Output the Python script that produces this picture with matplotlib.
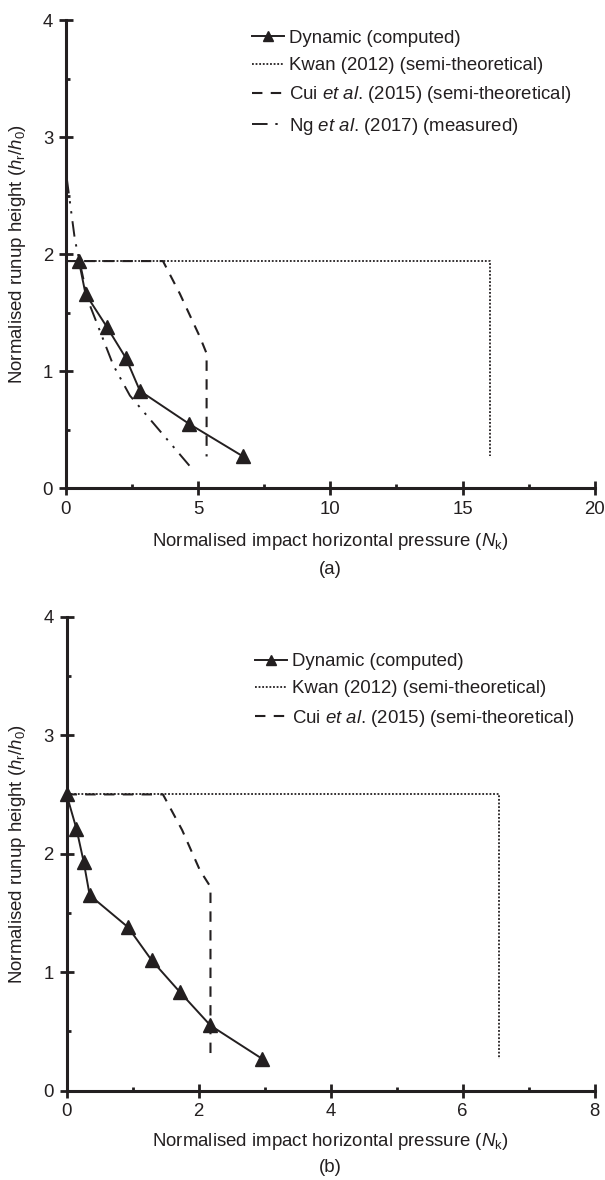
# -*- coding: utf-8 -*-
"""Runup height vs impact pressure, two panels (a) and (b)."""

import numpy as np
import matplotlib
matplotlib.use('Agg')
import matplotlib.pyplot as plt
from matplotlib.ticker import MultipleLocator

plt.rcParams['font.family'] = ['Liberation Sans', 'DejaVu Sans']
plt.rcParams['mathtext.fontset'] = 'custom'
plt.rcParams['mathtext.rm'] = 'Liberation Sans'
plt.rcParams['mathtext.it'] = 'Liberation Sans:italic'

INK = '#231f20'

# panel (a)
dyn_a_x = [0.49, 0.74, 1.54, 2.27, 2.80, 4.65, 6.70]
dyn_a_y = [1.94, 1.66, 1.38, 1.11, 0.83, 0.55, 0.27]
kwan_a_x = [0, 16.05, 16.05]
kwan_a_y = [1.94, 1.94, 0.27]
cui_a_x = [0, 3.67, 4.31, 5.07, 5.32, 5.32]
cui_a_y = [1.94, 1.94, 1.66, 1.29, 1.15, 0.27]
ng_a_x = [0.03, 0.34, 0.84, 1.79, 2.42, 4.75]
ng_a_y = [2.65, 2.12, 1.60, 1.05, 0.79, 0.17]

# panel (b)
dyn_b_x = [0.0, 0.15, 0.26, 0.35, 0.93, 1.29, 1.72, 2.18, 2.96]
dyn_b_y = [2.50, 2.21, 1.93, 1.65, 1.38, 1.10, 0.83, 0.55, 0.27]
kwan_b_x = [0, 6.55, 6.55]
kwan_b_y = [2.50, 2.50, 0.27]
cui_b_x = [0, 1.46, 1.75, 2.02, 2.18, 2.18]
cui_b_y = [2.50, 2.50, 2.20, 1.86, 1.72, 0.27]

labels = ['Dynamic (computed)',
          'Kwan (2012) (semi-theoretical)',
          r'Cui $\mathit{et\ al}$. (2015) (semi-theoretical)',
          r'Ng $\mathit{et\ al}$. (2017) (measured)']

FS = 13.4


def setup_axes(ax, xmax, xmajor):
    """Only left/bottom spines, ticks crossing the axes."""
    for s in ['top', 'right']:
        ax.spines[s].set_visible(False)
    for s in ['left', 'bottom']:
        ax.spines[s].set_linewidth(2.2)
        ax.spines[s].set_color(INK)
    ax.set_xlim(0, xmax)
    ax.set_ylim(0, 4)
    ax.xaxis.set_major_locator(MultipleLocator(xmajor))
    ax.xaxis.set_minor_locator(MultipleLocator(xmajor / 2))
    ax.yaxis.set_major_locator(MultipleLocator(1))
    ax.yaxis.set_minor_locator(MultipleLocator(0.5))
    ax.tick_params(which='major', direction='inout', length=9.4, width=2,
                   color=INK, labelsize=FS, labelcolor=INK, pad=4.5)
    ax.tick_params(which='minor', direction='in', length=3, width=2,
                   color=INK)


def draw(ax, dx, dy, kx, ky, cx, cy, nx=None, ny=None, anchor=(0.35, 0.99)):
    ax.plot(kx, ky, color=INK, lw=1.3, ls=(0, (1, 1)), label=labels[1],
            clip_on=False)
    ax.plot(cx, cy, color=INK, lw=1.5, ls=(0, (5, 4)), label=labels[2],
            clip_on=False)
    if nx is not None:
        ax.plot(nx, ny, color=INK, lw=1.4,
                ls=(0, (8, 4, 1.2, 4, 1.2, 4)), label=labels[3],
                clip_on=False)
    ax.plot(dx, dy, color=INK, lw=1.4, marker='^', ms=10.5,
            label=labels[0], clip_on=False, zorder=5)
    h, l = ax.get_legend_handles_labels()
    order = [l.index(t) for t in labels if t in l]
    leg = ax.legend([h[i] for i in order], [l[i] for i in order],
                    loc='upper left', bbox_to_anchor=anchor,
                    frameon=False, fontsize=FS, handlelength=1.7,
                    handletextpad=0.3, labelspacing=0.55, numpoints=1,
                    markerscale=0.7, borderaxespad=0, borderpad=0)
    for t in leg.get_texts():
        t.set_color(INK)


fig = plt.figure(figsize=(6.05, 11.8), dpi=100)
ax1 = fig.add_axes([0.109, 0.5864, 0.874, 0.3966])
ax2 = fig.add_axes([0.110, 0.0757, 0.873, 0.4017])

setup_axes(ax1, 20, 5)
setup_axes(ax2, 8, 2)
draw(ax1, dyn_a_x, dyn_a_y, kwan_a_x, kwan_a_y, cui_a_x, cui_a_y,
     ng_a_x, ng_a_y, anchor=(0.352, 0.979))
draw(ax2, dyn_b_x, dyn_b_y, kwan_b_x, kwan_b_y, cui_b_x, cui_b_y,
     anchor=(0.357, 0.923))

ylab = r'Normalised runup height ($\mathit{h}_\mathrm{r}/\mathit{h}_0$)'
xlab = r'Normalised impact horizontal pressure ($\mathit{N}_\mathrm{k}$)'
fig.text(0.029, 1 - 254 / 1180, ylab, rotation=90, ha='center', va='center',
         fontsize=FS, color=INK)
fig.text(0.029, 1 - 854 / 1180, ylab, rotation=90, ha='center', va='center',
         fontsize=FS, color=INK)
fig.text(0.546, 1 - 542 / 1180, xlab, ha='center', va='center',
         fontsize=FS, color=INK)
fig.text(0.546, 1 - 569 / 1180, '(a)', ha='center', va='center',
         fontsize=FS, color=INK)
fig.text(0.546, 1 - 1142 / 1180, xlab, ha='center', va='center',
         fontsize=FS, color=INK)
fig.text(0.546, 1 - 1168 / 1180, '(b)', ha='center', va='center',
         fontsize=FS, color=INK)

fig.savefig('out.png', dpi=100)
